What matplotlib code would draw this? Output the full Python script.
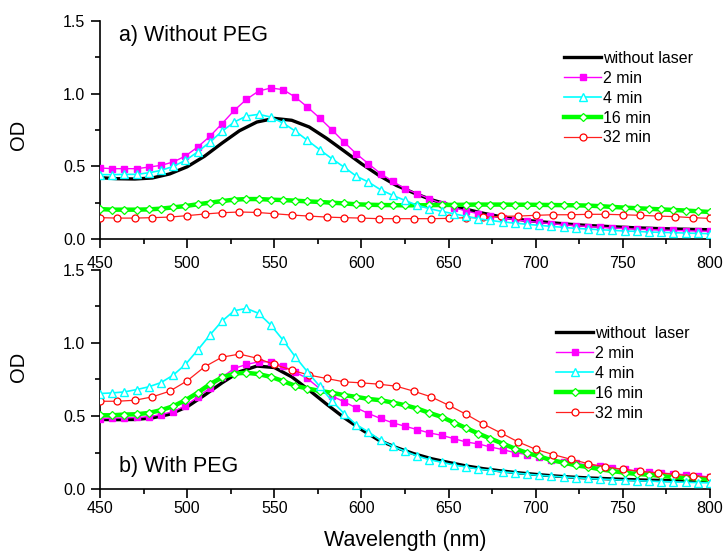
import matplotlib
matplotlib.use("Agg")
import matplotlib.pyplot as plt
import numpy as np
from matplotlib.ticker import MultipleLocator, FormatStrFormatter

plt.rcParams["font.family"] = ["Liberation Sans", "DejaVu Sans"]

# wavelength grids (nm)
wl_line = np.arange(450, 801, 10)   # smooth reference curve
wl_7 = np.arange(450, 801, 7)       # 2, 4, 16 min spectra
wl_10 = np.arange(450, 801, 10)     # 32 min spectra

labels_a = ["without laser", "2 min", "4 min", "16 min", "32 min"]
labels_b = ["without  laser", "2 min", "4 min", "16 min", "32 min"]

# ---- a) Without PEG ----
a_nolaser = [0.422, 0.415, 0.413, 0.420, 0.448, 0.497, 0.570, 0.660, 0.745, 0.805,
             0.830, 0.817, 0.771, 0.693, 0.606, 0.518, 0.438, 0.369, 0.317, 0.271,
             0.236, 0.205, 0.177, 0.153, 0.135, 0.122, 0.111, 0.101, 0.093, 0.087,
             0.081, 0.076, 0.072, 0.069, 0.066, 0.064]
a_2min = [0.489, 0.484, 0.484, 0.484, 0.495, 0.507, 0.530, 0.571, 0.633, 0.706,
          0.794, 0.885, 0.961, 1.018, 1.039, 1.028, 0.977, 0.908, 0.833, 0.752,
          0.667, 0.587, 0.518, 0.450, 0.397, 0.346, 0.312, 0.278, 0.243, 0.216,
          0.193, 0.174, 0.158, 0.146, 0.133, 0.123, 0.114, 0.105, 0.098, 0.092,
          0.086, 0.081, 0.076, 0.072, 0.068, 0.065, 0.062, 0.059, 0.057, 0.055, 0.053]
a_4min = [0.443, 0.443, 0.445, 0.445, 0.456, 0.472, 0.500, 0.541, 0.599, 0.667,
          0.741, 0.805, 0.846, 0.858, 0.839, 0.798, 0.743, 0.679, 0.615, 0.553,
          0.495, 0.433, 0.392, 0.339, 0.300, 0.266, 0.232, 0.209, 0.190, 0.174,
          0.156, 0.140, 0.128, 0.117, 0.110, 0.101, 0.094, 0.087, 0.080, 0.073,
          0.069, 0.064, 0.060, 0.055, 0.053, 0.048, 0.046, 0.044, 0.041, 0.039, 0.037]
a_16min = [0.206, 0.202, 0.202, 0.202, 0.204, 0.209, 0.218, 0.227, 0.239, 0.250,
           0.261, 0.271, 0.275, 0.275, 0.271, 0.268, 0.264, 0.259, 0.255, 0.250,
           0.245, 0.239, 0.236, 0.234, 0.233, 0.232, 0.232, 0.233, 0.234, 0.235,
           0.236, 0.237, 0.237, 0.237, 0.236, 0.236, 0.235, 0.234, 0.233, 0.232,
           0.230, 0.226, 0.221, 0.216, 0.212, 0.208, 0.204, 0.200, 0.196, 0.191, 0.186]
a_32min = [0.147, 0.144, 0.144, 0.147, 0.151, 0.161, 0.172, 0.181, 0.186, 0.183,
           0.174, 0.165, 0.158, 0.151, 0.147, 0.144, 0.140, 0.140, 0.140, 0.140,
           0.142, 0.147, 0.149, 0.156, 0.158, 0.163, 0.167, 0.167, 0.170, 0.170,
           0.167, 0.163, 0.158, 0.154, 0.147, 0.142]

# ---- b) With PEG ----
b_nolaser = [0.476, 0.475, 0.476, 0.487, 0.512, 0.563, 0.643, 0.727, 0.803, 0.842,
             0.832, 0.768, 0.677, 0.581, 0.489, 0.407, 0.334, 0.284, 0.242, 0.208,
             0.182, 0.158, 0.139, 0.124, 0.111, 0.100, 0.090, 0.082, 0.076, 0.071,
             0.066, 0.062, 0.059, 0.057, 0.055, 0.053]
b_2min = [0.482, 0.485, 0.487, 0.490, 0.495, 0.510, 0.530, 0.570, 0.630, 0.690,
          0.765, 0.826, 0.853, 0.871, 0.871, 0.842, 0.800, 0.757, 0.688, 0.638,
          0.597, 0.556, 0.517, 0.483, 0.453, 0.430, 0.407, 0.384, 0.368, 0.345,
          0.322, 0.309, 0.288, 0.270, 0.249, 0.236, 0.220, 0.197, 0.185, 0.176,
          0.165, 0.156, 0.142, 0.135, 0.123, 0.117, 0.110, 0.103, 0.098, 0.091, 0.082]
b_4min = [0.654, 0.658, 0.665, 0.681, 0.700, 0.729, 0.780, 0.853, 0.951, 1.054,
          1.150, 1.221, 1.237, 1.203, 1.123, 1.020, 0.906, 0.803, 0.704, 0.604,
          0.517, 0.441, 0.391, 0.334, 0.293, 0.258, 0.226, 0.201, 0.183, 0.165,
          0.151, 0.137, 0.128, 0.117, 0.110, 0.101, 0.094, 0.088, 0.082, 0.077,
          0.072, 0.068, 0.064, 0.060, 0.057, 0.054, 0.051, 0.049, 0.046, 0.044, 0.042]
b_16min = [0.505, 0.505, 0.510, 0.512, 0.521, 0.540, 0.567, 0.608, 0.659, 0.718,
           0.764, 0.791, 0.796, 0.787, 0.768, 0.739, 0.707, 0.688, 0.672, 0.659,
           0.643, 0.631, 0.617, 0.608, 0.592, 0.574, 0.551, 0.521, 0.494, 0.455,
           0.418, 0.380, 0.345, 0.311, 0.277, 0.247, 0.224, 0.197, 0.181, 0.162,
           0.151, 0.135, 0.123, 0.112, 0.103, 0.098, 0.089, 0.082, 0.075, 0.071, 0.064]
b_32min = [0.601, 0.601, 0.608, 0.631, 0.670, 0.741, 0.837, 0.903, 0.924, 0.896,
           0.853, 0.814, 0.780, 0.757, 0.734, 0.727, 0.718, 0.704, 0.670, 0.631,
           0.574, 0.512, 0.444, 0.384, 0.322, 0.272, 0.236, 0.204, 0.174, 0.151,
           0.135, 0.121, 0.110, 0.100, 0.089, 0.080]


def draw_panel(ax, series, labels, title, title_y, legend_anchor, xpad, od_y):
    nolaser, m2, m4, m16, m32 = series
    ax.plot(wl_line, nolaser, color="black", lw=2.4, label=labels[0], zorder=2)
    ax.plot(wl_7, m2, color="#FF00FF", lw=1.0, marker="s", ms=5,
            mfc="#FF00FF", mec="#FF00FF", label=labels[1], zorder=3)
    ax.plot(wl_7, m4, color="#00FFFF", lw=1.2, marker="^", ms=5.5,
            mfc="white", mec="#00FFFF", mew=1.0, label=labels[2], zorder=4)
    ax.plot(wl_7, m16, color="#00FF00", lw=3.2, marker="D", ms=4.5,
            mfc="white", mec="#00FF00", mew=0.9, label=labels[3], zorder=3)
    ax.plot(wl_10, m32, color="#FF2020", lw=0.9, marker="o", ms=5,
            mfc="white", mec="#FF0000", mew=0.9, label=labels[4], zorder=3)

    ax.set_xlim(450, 800)
    ax.set_ylim(0, 1.5)
    ax.xaxis.set_major_locator(MultipleLocator(50))
    ax.xaxis.set_minor_locator(MultipleLocator(25))
    ax.yaxis.set_major_locator(MultipleLocator(0.5))
    ax.yaxis.set_minor_locator(MultipleLocator(0.25))
    ax.yaxis.set_major_formatter(FormatStrFormatter("%.1f"))
    ax.tick_params(which="major", direction="out", length=6.5, width=1.2, labelsize=11.5)
    ax.tick_params(which="minor", direction="out", length=3.6, width=1.2)
    ax.tick_params(axis="y", which="major", pad=4)
    ax.tick_params(axis="x", which="major", pad=xpad)
    for side in ("top", "right"):
        ax.spines[side].set_visible(False)
    for side in ("left", "bottom"):
        ax.spines[side].set_linewidth(1.2)
    ax.set_ylabel("OD", fontsize=14.5)
    ax.yaxis.set_label_coords(-0.118, od_y)
    ax.text(0.031, title_y, title, transform=ax.transAxes, fontsize=15.5, va="center")
    ax.legend(loc="upper left", bbox_to_anchor=legend_anchor, frameon=False,
              fontsize=11.5, handlelength=2.3, handletextpad=0.15, labelspacing=0.31,
              borderaxespad=0, borderpad=0)


fig = plt.figure(figsize=(7.27, 5.56), dpi=100)
ax_a = fig.add_axes([0.1376, 0.5701, 0.8390, 0.3921])
ax_b = fig.add_axes([0.1376, 0.1205, 0.8390, 0.3939])

draw_panel(ax_a, [a_nolaser, a_2min, a_4min, a_16min, a_32min], labels_a,
           "a) Without PEG", 0.935, (0.761, 0.864), 6.0, 0.477)
draw_panel(ax_b, [b_nolaser, b_2min, b_4min, b_16min, b_32min], labels_b,
           "b) With PEG", 0.105, (0.748, 0.744), 2.0, 0.557)

ax_b.set_xlabel("Wavelength (nm)", fontsize=15.5, labelpad=10)

fig.savefig("out.png", dpi=100)
